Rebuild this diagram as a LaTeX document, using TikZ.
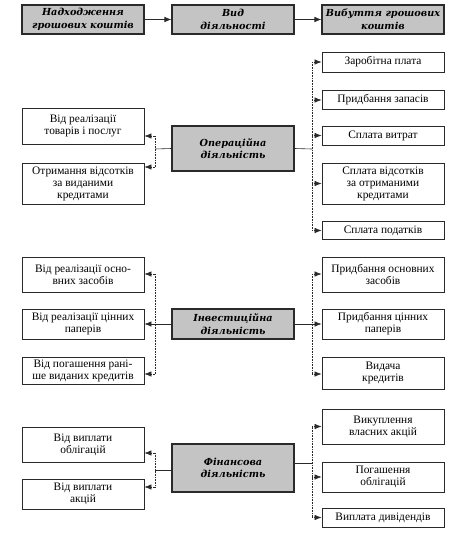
\documentclass[tikz,border=0pt]{standalone}
\usepackage{fontspec}
\setmainfont{Liberation Serif}
\newfontfamily\hdfont{DejaVu Serif}
\usetikzlibrary{arrows.meta}
\definecolor{boxgray}{HTML}{C4C4C4}
\definecolor{edge}{HTML}{2A2A2A}
\tikzset{
  wbox/.style={draw=edge, line width=0.9pt, fill=white, minimum width=122pt, inner sep=0pt, align=center, font=\fontsize{11.4}{12}\selectfont},
  gbox/.style={draw=edge, line width=1.1pt, fill=boxgray, minimum width=122pt, inner sep=0pt, align=center, font=\hdfont\bfseries\itshape\fontsize{9.7}{12.5}\selectfont},
  arr/.style={draw=edge, line width=0.6pt, -{Latex[length=7pt,width=5.5pt]}},
  dots/.style={draw=edge, line width=0.6pt, densely dotted},
  darr/.style={draw=edge, line width=0.6pt, densely dotted, -{Latex[length=7pt,width=5.5pt]}},
  sline/.style={draw=edge, line width=0.6pt}
}
\begin{document}
\begin{tikzpicture}[x=1pt,y=-1pt]
\useasboundingbox (0,0) rectangle (470,535);
% header
\node[gbox, minimum height=29pt] (h1) at (83,19.5) {Надходження\\грошових коштів};
\node[gbox, minimum height=29pt] (h2) at (233,19.5) {Вид\\діяльності};
\node[gbox, minimum height=29pt] (h3) at (383,19.5) {Вибуття грошових\\коштів};
\draw[arr] (h1) -- (h2);
\draw[arr] (h2) -- (h3);
% operational
\node[gbox, minimum height=45pt] (op) at (233,148.5) {Операційна\\діяльність};
\node[wbox, minimum height=36pt] (ol1) at (83,126) {Від реалізації\\товарів і послуг};
\node[wbox, minimum height=41pt] (ol2) at (83,183.5) {Отримання відсотків\\за виданими\\кредитами};
\node[wbox, minimum height=20pt] (or1) at (383,62) {Заробітна плата};
\node[wbox, minimum height=19pt] (or2) at (383,100) {Придбання запасів};
\node[wbox, minimum height=19pt] (or3) at (383,135.5) {Сплата витрат};
\node[wbox, minimum height=41pt] (or4) at (383,183.5) {Сплата відсотків\\за отриманими\\кредитами};
\node[wbox, minimum height=18pt] (or5) at (383,230.5) {Сплата податків};
\coordinate (ojl) at (155,149);
\coordinate (ojr) at (312,149);
\coordinate (oa1) at (155,136);
\coordinate (oa2) at (155,167);
\draw[sline] (op.west) -- (ojl);
\draw[sline] (op.east) -- (ojr);
\draw[dots] (oa1) -- (oa2);
\draw[darr] (oa1) -- (oa1 -| ol1.east);
\draw[darr] (oa2) -- (oa2 -| ol2.east);
\draw[dots] (ojr |- or1) -- (ojr |- or5);
\foreach \n in {or1,or2,or3,or4,or5} { \draw[darr] (ojr |- \n) -- (\n.west); }
% investment
\node[gbox, minimum height=30pt] (inv) at (233,324) {Інвестиційна\\діяльність};
\node[wbox, minimum height=35pt] (il1) at (83,274.5) {Від реалізації осно-\\вних засобів};
\node[wbox, minimum height=30pt] (il2) at (83,324) {Від реалізації цінних\\паперів};
\node[wbox, minimum height=27pt] (il3) at (83,370.5) {Від погашення рані-\\ше виданих кредитів};
\node[wbox, minimum height=35pt] (ir1) at (383,274.5) {Придбання основних\\засобів};
\node[wbox, minimum height=30pt] (ir2) at (383,324) {Придбання цінних\\паперів};
\node[wbox, minimum height=32pt] (ir3) at (383,373) {Видача\\кредитів};
\coordinate (ia1) at (155,274);
\coordinate (ia3) at (155,374);
\coordinate (ib1) at (312,274);
\coordinate (ib3) at (312,374);
\draw[arr] (inv.west) -- (il2.east);
\draw[arr] (inv.east) -- (ir2.west);
\draw[dots] (ia1) -- (ia3);
\draw[dots] (ib1) -- (ib3);
\draw[darr] (ia1) -- (ia1 -| il1.east);
\draw[darr] (ia3) -- (ia3 -| il3.east);
\draw[darr] (ib1) -- (ib1 -| ir1.west);
\draw[darr] (ib3) -- (ib3 -| ir3.west);
% financial
\node[gbox, minimum height=48pt] (fin) at (233,468) {Фінансова\\діяльність};
\node[wbox, minimum height=35pt] (fl1) at (83,444.5) {Від виплати\\облігацій};
\node[wbox, minimum height=30pt] (fl2) at (83,494) {Від виплати\\акцій};
\node[wbox, minimum height=35pt] (fr1) at (383,426.5) {Викуплення\\власних акцій};
\node[wbox, minimum height=30pt] (fr2) at (383,477) {Погашення\\облігацій};
\node[wbox, minimum height=19pt] (fr3) at (383,517.5) {Виплата дивідендів};
\coordinate (fjl) at (155,470);
\coordinate (fjr) at (312,463);
\coordinate (fa1) at (155,453);
\coordinate (fa2) at (155,487);
\draw[sline] (fin.west |- fjl) -- (fjl);
\draw[sline] (fin.east |- fjr) -- (fjr);
\draw[dots] (fa1) -- (fa2);
\draw[darr] (fa1) -- (fa1 -| fl1.east);
\draw[darr] (fa2) -- (fa2 -| fl2.east);
\draw[dots] (fjr |- fr1) -- (fjr |- fr3);
\foreach \n in {fr1,fr2,fr3} { \draw[darr] (fjr |- \n) -- (\n.west); }
\end{tikzpicture}
\end{document}
